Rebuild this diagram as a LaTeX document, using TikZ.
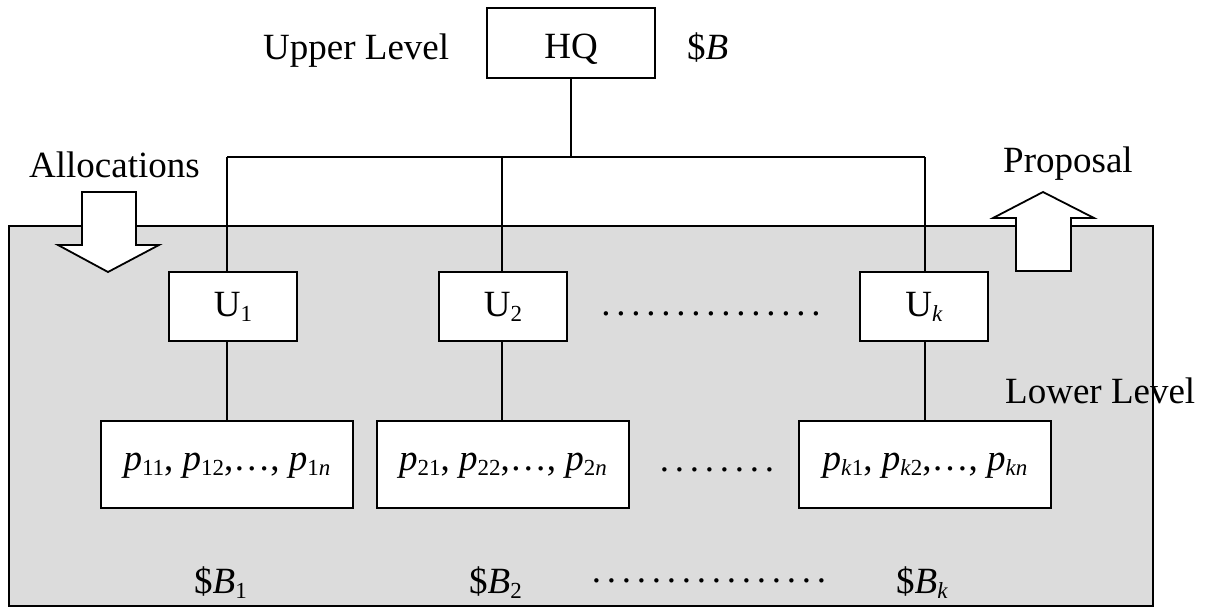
\documentclass[tikz,border=0pt]{standalone}
\usepackage{fontspec}
\setmainfont{Liberation Serif}
\definecolor{panel}{HTML}{DCDCDC}
% lowered small index, as in U_1 or p_{11}
\newcommand\lowidx[1]{\raisebox{-5pt}{\fontsize{23}{23}\selectfont #1}}
% a row of evenly spaced dots, 15pt apart
\newcommand\dotrow[1]{\hbox to #1{\leaders\hbox to 15pt{\hss.\hss}\hfill}}
\begin{document}
\begin{tikzpicture}[x=1pt,y=-1pt,
  lbl/.style={font=\fontsize{37}{44}\selectfont, inner sep=0pt, anchor=base west},
  box/.style={draw, fill=white, line width=1.8pt, inner sep=0pt, outer sep=0pt,
    font=\fontsize{37}{44}\selectfont, text depth=0pt},
  ubox/.style={box, minimum width=128pt, minimum height=69pt, text height=20pt},
  pbox/.style={box, minimum width=252pt, minimum height=87pt, text height=11pt},
  link/.style={line width=1.4pt},
  bigarrow/.style={draw, fill=white, line width=1.8pt, line join=miter},
  dots/.style={font=\fontsize{37}{44}\selectfont, inner sep=0pt, anchor=base}]
\useasboundingbox (0,0) rectangle (1206,614);
\fill[white] (0,0) rectangle (1206,614);

% lower level panel
\draw[fill=panel, line width=1.8pt] (9,226) rectangle (1153,606);

% allocation and proposal arrows
\draw[bigarrow] (82,192) -- (136,192) -- (136,245) -- (159,245) -- (108,272)
  -- (58,245) -- (82,245) -- cycle;
\draw[bigarrow] (1016,271) -- (1071,271) -- (1071,218) -- (1094,218) -- (1043,192)
  -- (993,218) -- (1016,218) -- cycle;

% upper level
\node[box, minimum width=168pt, minimum height=70pt, text height=30pt] (hq) at (571,43) {HQ};
\node[lbl] (upper) at (263,59) {Upper Level};
\node[lbl] (budget) at (687,59) {\$\textit{B}};
\node[lbl] (alloc) at (29,177) {Allocations};
\node[lbl] (prop) at (1003,172) {Proposal};
\node[lbl] (lower) at (1005,403) {Lower Level};

% units
\node[ubox] (u1) at (233,306.5) {U\lowidx{1}};
\node[ubox] (u2) at (503,306.5) {U\lowidx{2}};
\node[ubox] (uk) at (924,306.5) {U\lowidx{\textit{k}}};
\node[dots] (ud) at (711,315) {\dotrow{225pt}};

% projects of each unit
\node[pbox] (p1) at (227,464.5) {\textit{p}\lowidx{11}, \textit{p}\lowidx{12},…, \textit{p}\lowidx{1\textit{n}}};
\node[pbox] (p2) at (503,464.5) {\textit{p}\lowidx{21}, \textit{p}\lowidx{22},…, \textit{p}\lowidx{2\textit{n}}};
\node[pbox] (pk) at (925,464.5) {\textit{p}\lowidx{\textit{k}1}, \textit{p}\lowidx{\textit{k}2},…, \textit{p}\lowidx{\textit{kn}}};
\node[dots] (pd) at (717,471) {\dotrow{120pt}};

% unit budgets
\node[lbl] (bb1) at (194,593) {\$\textit{B}\lowidx{1}};
\node[lbl] (bb2) at (469,593) {\$\textit{B}\lowidx{2}};
\node[lbl] (bbk) at (896,593) {\$\textit{B}\lowidx{\textit{k}}};
\node[dots] (bd) at (709,582) {\dotrow{240pt}};

% tree connectors
\coordinate (b1) at (227,157);
\coordinate (b2) at (502,157);
\coordinate (bk) at (925,157);
\draw[link] (b1) -- (bk);
\draw[link] (hq.south) -- (hq.south |- b1);
\draw[link] (b1) -- (b1 |- u1.north);
\draw[link] (b2) -- (b2 |- u2.north);
\draw[link] (bk) -- (bk |- uk.north);
\draw[link] (b1 |- u1.south) -- (b1 |- p1.north);
\draw[link] (b2 |- u2.south) -- (b2 |- p2.north);
\draw[link] (bk |- uk.south) -- (bk |- pk.north);
\end{tikzpicture}
\end{document}
